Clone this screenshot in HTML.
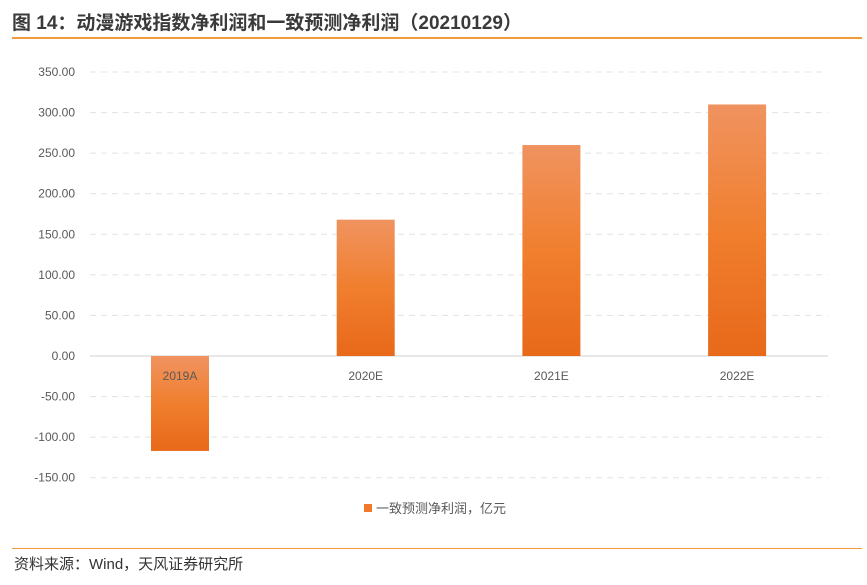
<!DOCTYPE html>
<html><head><meta charset="utf-8"><style>
body{margin:0;width:867px;height:585px;background:#fff;font-family:"Liberation Sans","Noto Sans CJK SC",sans-serif;overflow:hidden;position:relative}
#title{position:absolute;left:12px;top:8px;font-size:19px;font-weight:bold;color:#3a3a3a}
#tline{position:absolute;left:12px;top:37px;width:850px;height:1.5px;background:#f39a3c}
#bline{position:absolute;left:12px;top:548px;width:850px;height:1px;background:#f39a3c}
#src{position:absolute;left:14px;top:553px;font-size:15px;color:#333}
svg{position:absolute;left:0;top:0}
</style></head><body>
<div id="title">图 14：动漫游戏指数净利润和一致预测净利润（20210129）</div>
<div id="tline"></div>
<svg id="chart" width="867" height="585">
<defs><linearGradient id="g" x1="0" y1="0" x2="0" y2="1"><stop offset="0" stop-color="#f09360"/><stop offset="0.5" stop-color="#f07f2e"/><stop offset="1" stop-color="#e8691a"/></linearGradient></defs>
</svg>
<div id="bline"></div>
<div id="src">资料来源：Wind，天风证券研究所</div>
<script>
const categories=["2019A","2020E","2021E","2022E"];
const values=[-117,168,260,310];
const ticks=[350,300,250,200,150,100,50,0,-50,-100,-150];
const svg=document.getElementById('chart');
const NS='http://www.w3.org/2000/svg';
const y=v=>356-v*(284/350);
const x=i=>180+i*185.7;
function mk(t,a,txt){const e=document.createElementNS(NS,t);for(const k in a)e.setAttribute(k,a[k]);if(txt!=null)e.textContent=txt;svg.appendChild(e);return e;}
ticks.forEach(t=>{
 const l=mk('line',{x1:90,x2:828,y1:y(t),y2:y(t),stroke:t===0?'#d0d0d0':'#e3e3e3','stroke-width':1,'stroke-dasharray':t===0?'':'6,5'});
 
 
 const tx=mk('text',{x:75,y:y(t)+4,'text-anchor':'end','font-size':12,fill:'#595959'},t.toFixed(2));
 
 
});
values.forEach((v,i)=>{
 const top=Math.min(y(v),y(0)),h=Math.abs(y(v)-y(0));
 const r=mk('rect',{x:x(i)-29,y:top,width:58,height:h,fill:'url(#g)'});
 
 
 const t=mk('text',{x:x(i),y:380,'text-anchor':'middle','font-size':12,fill:'#595959'},categories[i]);
 
 
});
const ls=mk('rect',{x:364,y:504,width:8,height:8,fill:'#ee7a2a'});


const lt=mk('text',{x:376,y:513,'font-size':13,fill:'#595959'},'一致预测净利润，亿元');


</script>
</body></html>
